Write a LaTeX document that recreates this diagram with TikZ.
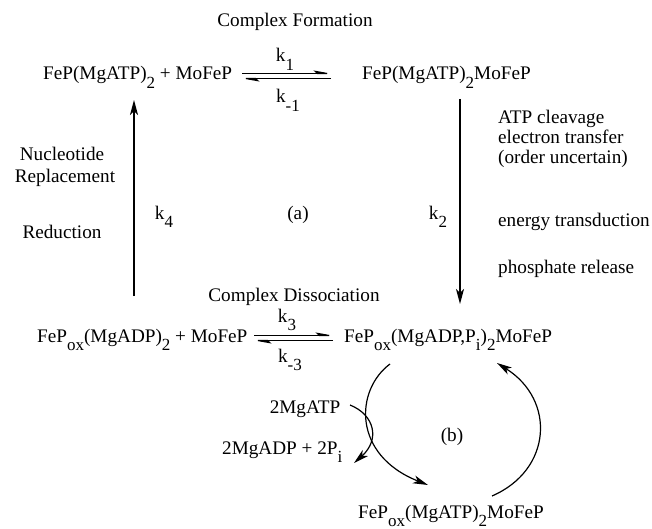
\documentclass[tikz,border=0pt]{standalone}
\usepackage{fontspec}
\setmainfont{Liberation Serif}
\usetikzlibrary{arrows.meta,calc}
\newcommand\lsub[1]{\raisebox{-0.42em}{\fontsize{17}{17}\selectfont #1}}
\begin{document}
\begin{tikzpicture}[x=1pt,y=-1pt,font=\fontsize{19.2}{22}\selectfont,
  txt/.style={inner sep=0pt,anchor=base west},
  ctxt/.style={inner sep=0pt,anchor=base},
  arr/.style={line width=1.2pt,-{Stealth[length=15pt,width=8pt,inset=4pt]}},
  harp/.style={line width=1.2pt,-{Stealth[harpoon,length=17pt,width=6pt,inset=3pt]}}]
\useasboundingbox[fill=white] (0,0) rectangle (652,529);

% top row
\node[ctxt] (cf) at (295,27) {Complex Formation};
\node[txt] (fa) at (43,80) {FeP(MgATP)\lsub{2} + MoFeP};
\node[txt] (fb) at (362,80) {FeP(MgATP)\lsub{2}MoFeP};
\node[ctxt] (k1) at (285,62) {k\lsub{1}};
\node[ctxt] (km1) at (288,103) {k\lsub{-1}};
\coordinate (t1s) at (242,73.5);
\coordinate (t1e) at (334,73.5);
\coordinate (t2s) at (331,78.5);
\coordinate (t2e) at (239,78.5);
\draw[harp] (t1s) -- (t1e);
\draw[harp] (t2s) -- (t2e);

% right side
\coordinate (r1) at (460,99);
\coordinate (r2) at (460,304);
\draw[arr] (r1) -- (r2);
\node[ctxt] (k2) at (438,219) {k\lsub{2}};
\node[txt] (atp) at (498,124) {ATP cleavage};
\node[txt] (el) at (498,144) {electron transfer};
\node[txt] (ord) at (498,164) {(order uncertain)};
\node[txt] (en) at (498,226) {energy transduction};
\node[txt] (ph) at (498,273) {phosphate release};

% middle
\node[ctxt] (a) at (298,219) {(a)};

% left side
\coordinate (l1) at (134,296);
\coordinate (l2) at (134,100);
\draw[arr] (l1) -- (l2);
\node[ctxt] (k4) at (164,219) {k\lsub{4}};
\node[ctxt] (nuc) at (62,161) {Nucleotide};
\node[ctxt] (rep) at (65,183) {Replacement};
\node[ctxt] (red) at (62,238) {Reduction};

% bottom row
\node[ctxt] (cd) at (294,301) {Complex Dissociation};
\node[txt] (fd) at (37,342) {FeP\lsub{ox}(MgADP)\lsub{2} + MoFeP};
\node[txt] (fc) at (344,342) {FeP\lsub{ox}(MgADP,P\lsub{i})\lsub{2}MoFeP};
\node[ctxt] (k3) at (287,322) {k\lsub{3}};
\node[ctxt] (km3) at (290,362) {k\lsub{-3}};
\coordinate (b1s) at (254,335.5);
\coordinate (b1e) at (336,335.5);
\coordinate (b2s) at (333,340.5);
\coordinate (b2e) at (251,340.5);
\draw[harp] (b1s) -- (b1e);
\draw[harp] (b2s) -- (b2e);

% lower cycle
\node[ctxt] (atp2) at (305,413) {2MgATP};
\node[txt] (adp) at (222,454) {2MgADP + 2P\lsub{i}};
\node[ctxt] (b) at (452,441) {(b)};
\node[ctxt] (fe) at (451,518) {FeP\lsub{ox}(MgATP)\lsub{2}MoFeP};
\coordinate (c1) at (390,364);
\coordinate (c2) at (428,485);
\coordinate (c3) at (492,496);
\coordinate (c4) at (497,363);
\coordinate (s1) at (350,405);
\coordinate (s2) at (354,463);
\draw[arr] (c1) .. controls (355,390) and (352,455) .. (c2);
\draw[arr] (c3) .. controls (552,470) and (556,400) .. (c4);
\draw[arr] (s1) .. controls (375,415) and (380,440) .. (s2);
\end{tikzpicture}
\end{document}
